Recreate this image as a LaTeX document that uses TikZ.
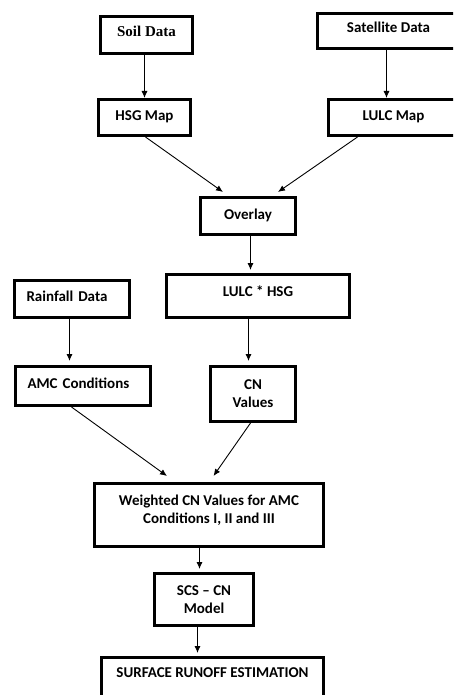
\documentclass[tikz,border=0pt]{standalone}
\usepackage{fontspec}
\setmainfont{Carlito}
\newfontfamily\serifbold{Liberation Serif}
\usetikzlibrary{arrows.meta,positioning,calc}
\tikzset{%
  riquadro/.style={%
    draw, line width=3pt, inner sep=0pt, anchor=north west,
    align=center,
    font={\fontsize{15}{18.3}\selectfont\bfseries}
  },
  sinistra/.style={%
    inner xsep=12pt, text width=#1, align=left
  },
  freccia/.style={-{Latex[length=7pt,width=6pt]}, line width=0.9pt}
}

\begin{document}
\begin{tikzpicture}[x=1pt,y=-1pt]
\useasboundingbox (0,0) rectangle (453,695);
\clip (0,0) rectangle (453,695);

\node[riquadro, minimum width=92pt, text height=20.5pt, text depth=16.5pt] (soil) at (99,15) {\serifbold Soil Data};
\node[riquadro, minimum width=142pt, text height=19.5pt, text depth=15.5pt] (sat) at (316,12) {Satellite Data};
\node[riquadro, minimum width=92pt, text height=21pt, text depth=15pt] (hsg) at (97,98) {HSG Map};
\node[riquadro, minimum width=130pt, text height=21pt, text depth=15pt] (lulc) at (327,98) {LULC Map};
\node[riquadro, minimum width=95pt, text height=21.5pt, text depth=15.5pt] (overlay) at (199,196) {Overlay};
\node[riquadro, minimum width=183pt, text height=22pt, text depth=21pt] (lulchsg) at (165,273) {LULC * HSG};
\node[riquadro, sinistra=91pt, text height=21pt, text depth=16pt] (rain) at (13,279) {Rainfall Data};
\node[riquadro, sinistra=111pt, text height=21.5pt, text depth=17.5pt] (amc) at (14,365) {AMC Conditions};
\node[riquadro, minimum width=85pt, text height=40.8pt, text depth=14.2pt] (cn) at (209,365) {CN\\Values};
\node[riquadro, minimum width=229pt, text height=39.8pt, text depth=23.2pt] (weighted) at (93,482) {Weighted CN Values for AMC\\Conditions I, II and III};
\node[riquadro, minimum width=99pt, text height=40pt, text depth=12pt] (scs) at (153,572) {SCS -- CN\\Model};
\node[riquadro, minimum width=222pt, text height=19.5pt, text depth=25pt] (surface) at (100,656) {SURFACE RUNOFF ESTIMATION};

\draw[freccia] (hsg.north |- soil.south) -- (hsg.north);
\draw[freccia] ([xshift=-2pt]sat.south) -- ([xshift=-2pt]sat.south |- lulc.north);
\draw[freccia] ([xshift=1pt]hsg.south) -- ([xshift=-25pt,yshift=4pt]overlay.north);
\draw[freccia] ([xshift=-36pt]lulc.south) -- ([xshift=30pt,yshift=4pt]overlay.north);
\draw[freccia] ([xshift=2.5pt]overlay.south) -- ([xshift=2.5pt,yshift=3pt]overlay.south |- lulchsg.north);
\draw[freccia] ([xshift=-2.5pt]rain.south) -- ([xshift=-2.5pt,yshift=4pt]rain.south |- amc.north);
\draw[freccia] ([xshift=-9.5pt]lulchsg.south) -- ([xshift=-9.5pt,yshift=4pt]lulchsg.south |- cn.north);
\draw[freccia] ([xshift=-11.5pt]amc.south) -- ([xshift=-42pt,yshift=6pt]weighted.north);
\draw[freccia] ([xshift=-2.5pt]cn.south) -- ([xshift=4.5pt,yshift=6pt]weighted.north);
\draw[freccia] ([xshift=-9.5pt]weighted.south) -- ([xshift=-9.5pt,yshift=3pt]weighted.south |- scs.north);
\draw[freccia] ([xshift=-6.5pt]scs.south) -- ([xshift=-6.5pt,yshift=3pt]scs.south |- surface.north);
\end{tikzpicture}
\end{document}
